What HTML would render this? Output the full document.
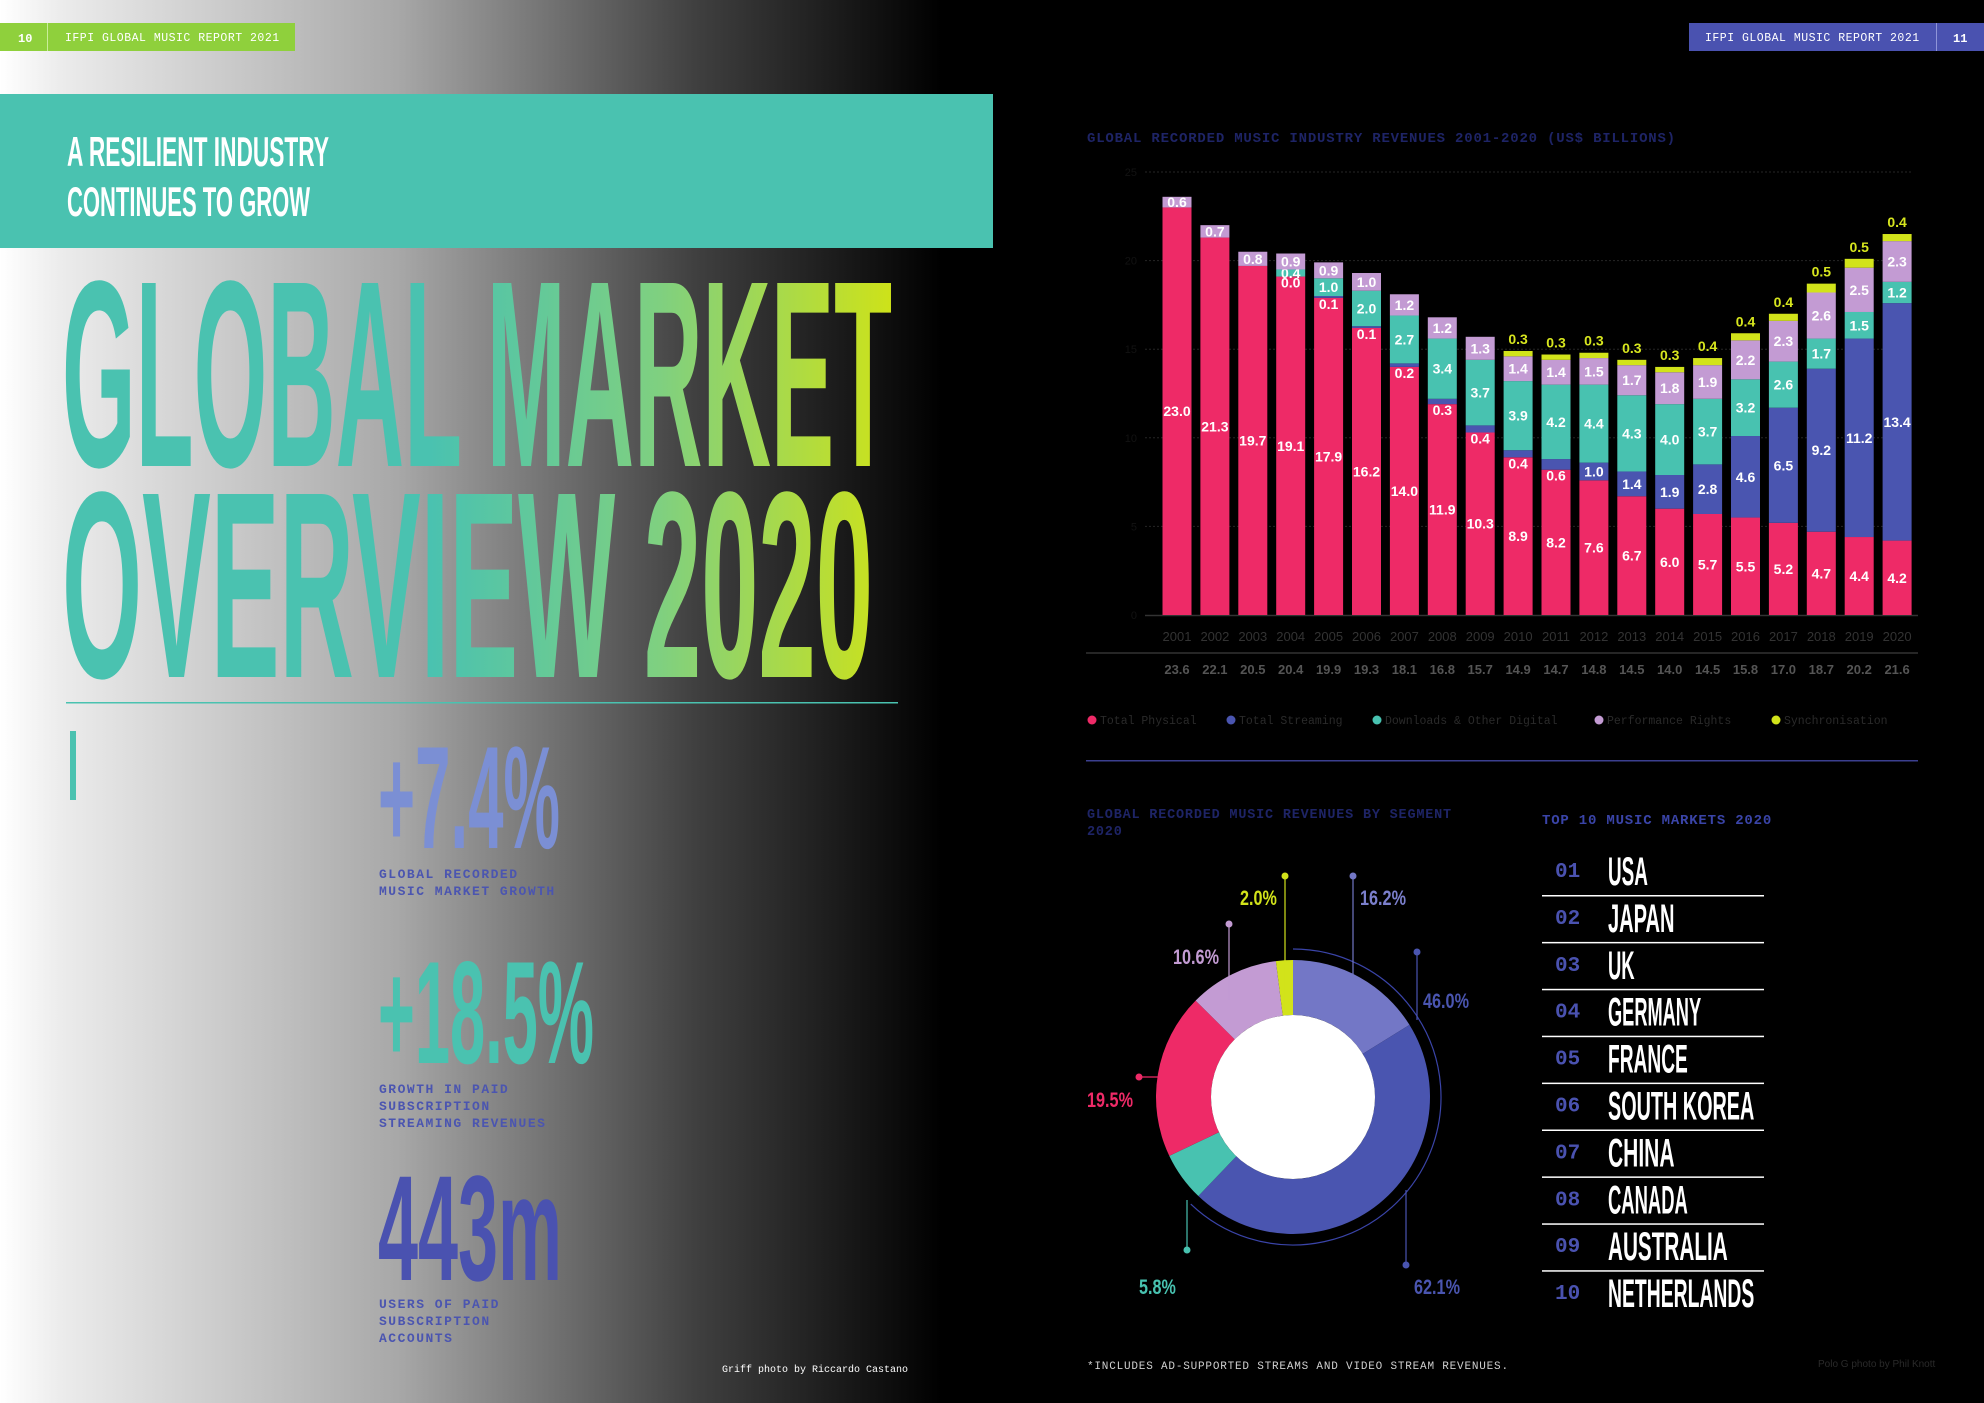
<!DOCTYPE html>
<html><head><meta charset="utf-8"><style>
html,body{margin:0;padding:0;background:#000;}
svg{display:block;}
</style></head><body>
<svg id="page" width="1984" height="1403" viewBox="0 0 1984 1403" xmlns="http://www.w3.org/2000/svg">
<defs>
<linearGradient id="bgGrad" x1="0" y1="0" x2="992" y2="0" gradientUnits="userSpaceOnUse">
<stop offset="0" stop-color="#ffffff"/><stop offset="0.06" stop-color="#ececec"/><stop offset="0.4" stop-color="#a8a8a8"/><stop offset="0.7" stop-color="#404040"/><stop offset="0.95" stop-color="#000"/></linearGradient>
<linearGradient id="titleGrad" x1="430" y1="0" x2="890" y2="0" gradientUnits="userSpaceOnUse">
<stop offset="0" stop-color="#4ac2b0"/><stop offset="0.5" stop-color="#7fd080"/><stop offset="1" stop-color="#cde21a"/></linearGradient>
</defs>
<rect x="0" y="0" width="1984" height="1403" fill="#000"/>
<rect x="0" y="0" width="992" height="1403" fill="url(#bgGrad)"/>

<g>
<rect x="0" y="23" width="295" height="28" fill="#8fd03c"/>
<rect x="47" y="23" width="1" height="28" fill="#c9ee9a"/>
<text x="18" y="42" font-family="Liberation Mono, monospace" font-size="12" font-weight="bold" fill="#fff">10</text>
<text x="65" y="41" font-family="Liberation Mono, monospace" font-size="11.5" fill="#fff" letter-spacing="0.5">IFPI GLOBAL MUSIC REPORT 2021</text>
</g>
<g>
<rect x="1689" y="23" width="295" height="28" fill="#4a52b0"/>
<rect x="1936" y="23" width="1" height="28" fill="#8f95d8"/>
<text x="1705" y="41" font-family="Liberation Mono, monospace" font-size="11.5" fill="#fff" letter-spacing="0.5">IFPI GLOBAL MUSIC REPORT 2021</text>
<text x="1953" y="42" font-family="Liberation Mono, monospace" font-size="12" font-weight="bold" fill="#fff">11</text>
</g>

<rect x="0" y="94" width="993" height="154" fill="#4ac2b0"/>
<text x="67" y="166" font-family="Liberation Sans Narrow, Liberation Sans, sans-serif" font-weight="bold" font-size="42" fill="#fff" textLength="262" lengthAdjust="spacingAndGlyphs">A RESILIENT INDUSTRY</text>
<text x="67" y="216" font-family="Liberation Sans Narrow, Liberation Sans, sans-serif" font-weight="bold" font-size="42" fill="#fff" textLength="243" lengthAdjust="spacingAndGlyphs">CONTINUES TO GROW</text>

<text x="62" y="466" font-family="Liberation Sans Narrow, Liberation Sans, sans-serif" font-weight="bold" font-size="266" fill="url(#titleGrad)" textLength="830" lengthAdjust="spacingAndGlyphs">GLOBAL MARKET</text>
<text x="62" y="677" font-family="Liberation Sans Narrow, Liberation Sans, sans-serif" font-weight="bold" font-size="266" fill="url(#titleGrad)" textLength="811" lengthAdjust="spacingAndGlyphs">OVERVIEW 2020</text>
<rect x="66" y="702" width="832" height="1.5" fill="#4ac2b0"/>
<rect x="70" y="731" width="6" height="69" fill="#4ac2b0"/>

<g>
<text x="378" y="848" font-family="Liberation Sans Narrow, Liberation Sans, sans-serif" font-weight="bold" font-size="146" fill="#7b8fd4" textLength="182" lengthAdjust="spacingAndGlyphs">+7.4%</text>
<text x="379" y="878" font-family="Liberation Mono, monospace" font-weight="bold" font-size="13" fill="#4b55b0" letter-spacing="1.5">GLOBAL RECORDED</text>
<text x="379" y="895" font-family="Liberation Mono, monospace" font-weight="bold" font-size="13" fill="#4b55b0" letter-spacing="1.5">MUSIC MARKET GROWTH</text>
</g>
<g>
<text x="378" y="1063" font-family="Liberation Sans Narrow, Liberation Sans, sans-serif" font-weight="bold" font-size="146" fill="#4ac2b0" textLength="216" lengthAdjust="spacingAndGlyphs">+18.5%</text>
<text x="379" y="1093" font-family="Liberation Mono, monospace" font-weight="bold" font-size="13" fill="#4b55b0" letter-spacing="1.5">GROWTH IN PAID</text>
<text x="379" y="1110" font-family="Liberation Mono, monospace" font-weight="bold" font-size="13" fill="#4b55b0" letter-spacing="1.5">SUBSCRIPTION</text>
<text x="379" y="1127" font-family="Liberation Mono, monospace" font-weight="bold" font-size="13" fill="#4b55b0" letter-spacing="1.5">STREAMING REVENUES</text>
</g>
<g>
<text x="378" y="1280" font-family="Liberation Sans Narrow, Liberation Sans, sans-serif" font-weight="bold" font-size="150" fill="#4a52b0" textLength="184" lengthAdjust="spacingAndGlyphs">443m</text>
<text x="379" y="1308" font-family="Liberation Mono, monospace" font-weight="bold" font-size="13" fill="#4b55b0" letter-spacing="1.5">USERS OF PAID</text>
<text x="379" y="1325" font-family="Liberation Mono, monospace" font-weight="bold" font-size="13" fill="#4b55b0" letter-spacing="1.5">SUBSCRIPTION</text>
<text x="379" y="1342" font-family="Liberation Mono, monospace" font-weight="bold" font-size="13" fill="#4b55b0" letter-spacing="1.5">ACCOUNTS</text>
</g>
<text x="722" y="1372" font-family="Liberation Mono, monospace" font-size="10" fill="#fff">Griff photo by Riccardo Castano</text>

<text x="1087" y="142" font-family="Liberation Mono, monospace" font-weight="bold" font-size="14" fill="#1e2466" letter-spacing="0.8">GLOBAL RECORDED MUSIC INDUSTRY REVENUES 2001-2020 (US$ BILLIONS)</text>
<g id="barChart"></g>

<rect x="1086" y="760" width="832" height="1.5" fill="#3b3f8f"/>

<text x="1087" y="818" font-family="Liberation Mono, monospace" font-weight="bold" font-size="13.5" fill="#1e2466" letter-spacing="0.8">GLOBAL RECORDED MUSIC REVENUES BY SEGMENT</text>
<text x="1087" y="835" font-family="Liberation Mono, monospace" font-weight="bold" font-size="13.5" fill="#1e2466" letter-spacing="0.8">2020</text>
<g id="donut"></g>

<text x="1542" y="824" font-family="Liberation Mono, monospace" font-weight="bold" font-size="14" fill="#3a44a8" letter-spacing="0.8">TOP 10 MUSIC MARKETS 2020</text>
<g id="markets"></g>

<text x="1087" y="1369" font-family="Liberation Mono, monospace" font-size="11" fill="#cfcfcf" letter-spacing="0.8">*INCLUDES AD-SUPPORTED STREAMS AND VIDEO STREAM REVENUES.</text>
<text x="1818" y="1367" font-family="Liberation Sans, sans-serif" font-size="10" fill="#2a2a2a">Polo G photo by Phil Knott</text>
</svg>
<script>
const years = ["2001","2002","2003","2004","2005","2006","2007","2008","2009","2010","2011","2012","2013","2014","2015","2016","2017","2018","2019","2020"];
const physical = [23.0,21.3,19.7,19.1,17.9,16.2,14.0,11.9,10.3,8.9,8.2,7.6,6.7,6.0,5.7,5.5,5.2,4.7,4.4,4.2];
const streaming = [null,null,null,0.0,0.1,0.1,0.2,0.3,0.4,0.4,0.6,1.0,1.4,1.9,2.8,4.6,6.5,9.2,11.2,13.4];
const downloads = [null,null,null,0.4,1.0,2.0,2.7,3.4,3.7,3.9,4.2,4.4,4.3,4.0,3.7,3.2,2.6,1.7,1.5,1.2];
const performance = [0.6,0.7,0.8,0.9,0.9,1.0,1.2,1.2,1.3,1.4,1.4,1.5,1.7,1.8,1.9,2.2,2.3,2.6,2.5,2.3];
const sync = [null,null,null,null,null,null,null,null,null,0.3,0.3,0.3,0.3,0.3,0.4,0.4,0.4,0.5,0.5,0.4];
const totals = ["23.6","22.1","20.5","20.4","19.9","19.3","18.1","16.8","15.7","14.9","14.7","14.8","14.5","14.0","14.5","15.8","17.0","18.7","20.2","21.6"];
const yTicks = [0,5,10,15,20,25];
const legendLabels = ["Total Physical","Total Streaming","Downloads & Other Digital","Performance Rights","Synchronisation"];

const segLabels = ["2.0%","16.2%","46.0%","5.8%","19.5%","10.6%"];
const segValues = [2.0,16.2,46.0,5.8,19.5,10.6];
const segNames = ["synchronisation","streaming-ad-supported","streaming-subscription","downloads","physical","performance-rights"];

const markets = ["USA","JAPAN","UK","GERMANY","FRANCE","SOUTH KOREA","CHINA","CANADA","AUSTRALIA","NETHERLANDS"];

const NS = "http://www.w3.org/2000/svg";
function mk(tag, attrs, parent){const e=document.createElementNS(NS,tag);for(const k in attrs)e.setAttribute(k,attrs[k]);parent.appendChild(e);return e;}
const colors = ["#ee2a67","#4a55b0","#48c2b0","#c39bd3","#d2e31a"];

const y0 = 615, yTop = 172, vMax = 25;
const yScale = v => y0 - v*(y0-yTop)/vMax;
const x0 = 1177, step = 37.9, bw = 29;
const xScale = i => x0 + i*step;
const chart = document.getElementById('barChart');

yTicks.forEach(t=>{
  if(t>0){const g=mk('line',{x1:1145,x2:1913,y1:yScale(t),y2:yScale(t),stroke:'#262626','stroke-dasharray':'2,2','stroke-width':1},chart);
  
  }
  const tl=mk('text',{x:1137,y:yScale(t)+4,'text-anchor':'end','font-family':'Liberation Sans, sans-serif','font-size':11,fill:'#121212'},chart);
  tl.textContent=t;
  
  
});
const base=mk('line',{x1:1145,x2:1918,y1:y0+0.5,y2:y0+0.5,stroke:'#333','stroke-width':1.5},chart);



const series=[physical,streaming,downloads,performance,sync];
years.forEach((yr,i)=>{
  const cx = xScale(i);
  let cum=0;
  series.forEach((s,si)=>{
    const v=s[i];
    if(v===null) return;
    const yb=yScale(cum), yt=yScale(cum+v);
    const r=mk('rect',{x:cx-bw/2,y:yt,width:bw,height:Math.max(0,yb-yt),fill:colors[si]},chart);
    
    
    let ly, fill='#fff';
    if(si===4){ly=yt-7; fill='#d7e61e';}
    else if(si===1 && v<1){ly=yb+11;}
    else ly=(yt+yb)/2+5;
    const t=mk('text',{x:cx,y:ly,'text-anchor':'middle','font-family':'Liberation Sans Narrow, Liberation Sans, sans-serif','font-weight':'bold','font-size':14,fill:fill},chart);
    t.textContent=v.toFixed(1);
    
    
    cum+=v;
  });
  const yl=mk('text',{x:cx,y:641,'text-anchor':'middle','font-family':'Liberation Sans, sans-serif','font-size':13,fill:'#333'},chart);
  yl.textContent=yr;
  
  
  const tt=mk('text',{x:cx,y:674,'text-anchor':'middle','font-family':'Liberation Sans, sans-serif','font-weight':'bold','font-size':13,fill:'#555'},chart);
  tt.textContent=totals[i];
  
  
});
const tr=mk('line',{x1:1086,x2:1918,y1:653,y2:653,stroke:'#333','stroke-width':1.5},chart);


const legX=[1092,1231,1377,1599,1776];
legendLabels.forEach((l,i)=>{
  const g=mk('g',{},chart);
  
  
  mk('circle',{cx:legX[i],cy:720,r:4.5,fill:colors[i]},g);
  const t=mk('text',{x:legX[i]+8,y:724,'font-family':'Liberation Mono, monospace','font-size':11.5,fill:'#2a2a2a'},g);
  t.textContent=l;
});

const dn=document.getElementById('donut');
const cx=1293, cy=1097, R=137, r0=82;
const segColors=["#d2e31a","#7377c6","#4a55b0","#48c2b0","#ee2a67","#c39bd3"];
const total=segValues.reduce((a,b)=>a+b,0);
function pt(rad,ang){return [cx+rad*Math.sin(ang), cy-rad*Math.cos(ang)];}
let a=-segValues[0]/total*2*Math.PI;
segValues.forEach((v,i)=>{
  const a2=a+v/total*2*Math.PI;
  const [x1,y1]=pt(R,a),[x2,y2]=pt(R,a2),[x3,y3]=pt(r0,a2),[x4,y4]=pt(r0,a);
  const lg=(a2-a)>Math.PI?1:0;
  const p=mk('path',{d:`M${x1},${y1} A${R},${R} 0 ${lg} 1 ${x2},${y2} L${x3},${y3} A${r0},${r0} 0 ${lg} 0 ${x4},${y4} Z`,fill:segColors[i]},dn);
  
  
  a=a2;
});
mk('circle',{cx:cx,cy:cy,r:r0,fill:'#fff'},dn);
{const s=0, e=(segValues[1]+segValues[2])/total*2*Math.PI, RR=148;
 const [x1,y1]=pt(RR,s),[x2,y2]=pt(RR,e);
 const br=mk('path',{d:`M${x1},${y1} A${RR},${RR} 0 1 1 ${x2},${y2}`,fill:'none',stroke:'#3a44a8','stroke-width':1.2},dn);
 
 }
const leaders=[[1285,876,1285,1010,"#d2e31a"],[1353,876,1353,975,"#7377c6"],[1229,924,1229,1000,"#c39bd3"],[1417,952,1417,1020,"#4a55b0"],[1139,1077,1158,1077,"#ee2a67"],[1187,1250,1187,1200,"#48c2b0"],[1406,1265,1406,1190,"#4a55b0"]];
leaders.forEach(l=>{
  const ln=mk('line',{x1:l[0],y1:l[1],x2:l[2],y2:l[3],stroke:l[4],'stroke-width':1.2},dn);
  
  
  mk('circle',{cx:l[0],cy:l[1],r:3.5,fill:l[4]},dn);
});
const labPos=[[1240,905,"#d2e31a"],[1360,905,"#7b7fcc"],[1173,964,"#c39bd3"],[1423,1008,"#4a55b0"],[1087,1107,"#ee2a67"],[1139,1294,"#48c2b0"],[1414,1294,"#4a55b0"]];
const labTexts=[segLabels[0],segLabels[1],segLabels[5],segLabels[2],segLabels[4],segLabels[3],"62.1%"];
labTexts.forEach((t,i)=>{
  const e=mk('text',{x:labPos[i][0],y:labPos[i][1],'font-family':'Liberation Sans Narrow, Liberation Sans, sans-serif','font-weight':'bold','font-size':21,fill:labPos[i][2],textLength:t.length*9.2,lengthAdjust:'spacingAndGlyphs'},dn);
  e.textContent=t;
  
  
});

const mg=document.getElementById('markets');
markets.forEach((m,i)=>{
  const yc=870+i*46.9;
  const n=mk('text',{x:1555,y:yc+7,'font-family':'Liberation Mono, monospace','font-weight':'bold','font-size':21,fill:'#4a52b0'},mg);
  n.textContent=String(i+1).padStart(2,'0');
  
  
  const t=mk('text',{x:1608,y:yc+15,'font-family':'Liberation Sans Narrow, Liberation Sans, sans-serif','font-weight':'bold','font-size':40,fill:'#fff',textLength:m.length*13.3,lengthAdjust:'spacingAndGlyphs'},mg);
  t.textContent=m;
  
  
  if(i<9){const l=mk('rect',{x:1542,y:yc+25,width:222,height:1.5,fill:'#fff'},mg);
  
  }
});
</script>
</body></html>
